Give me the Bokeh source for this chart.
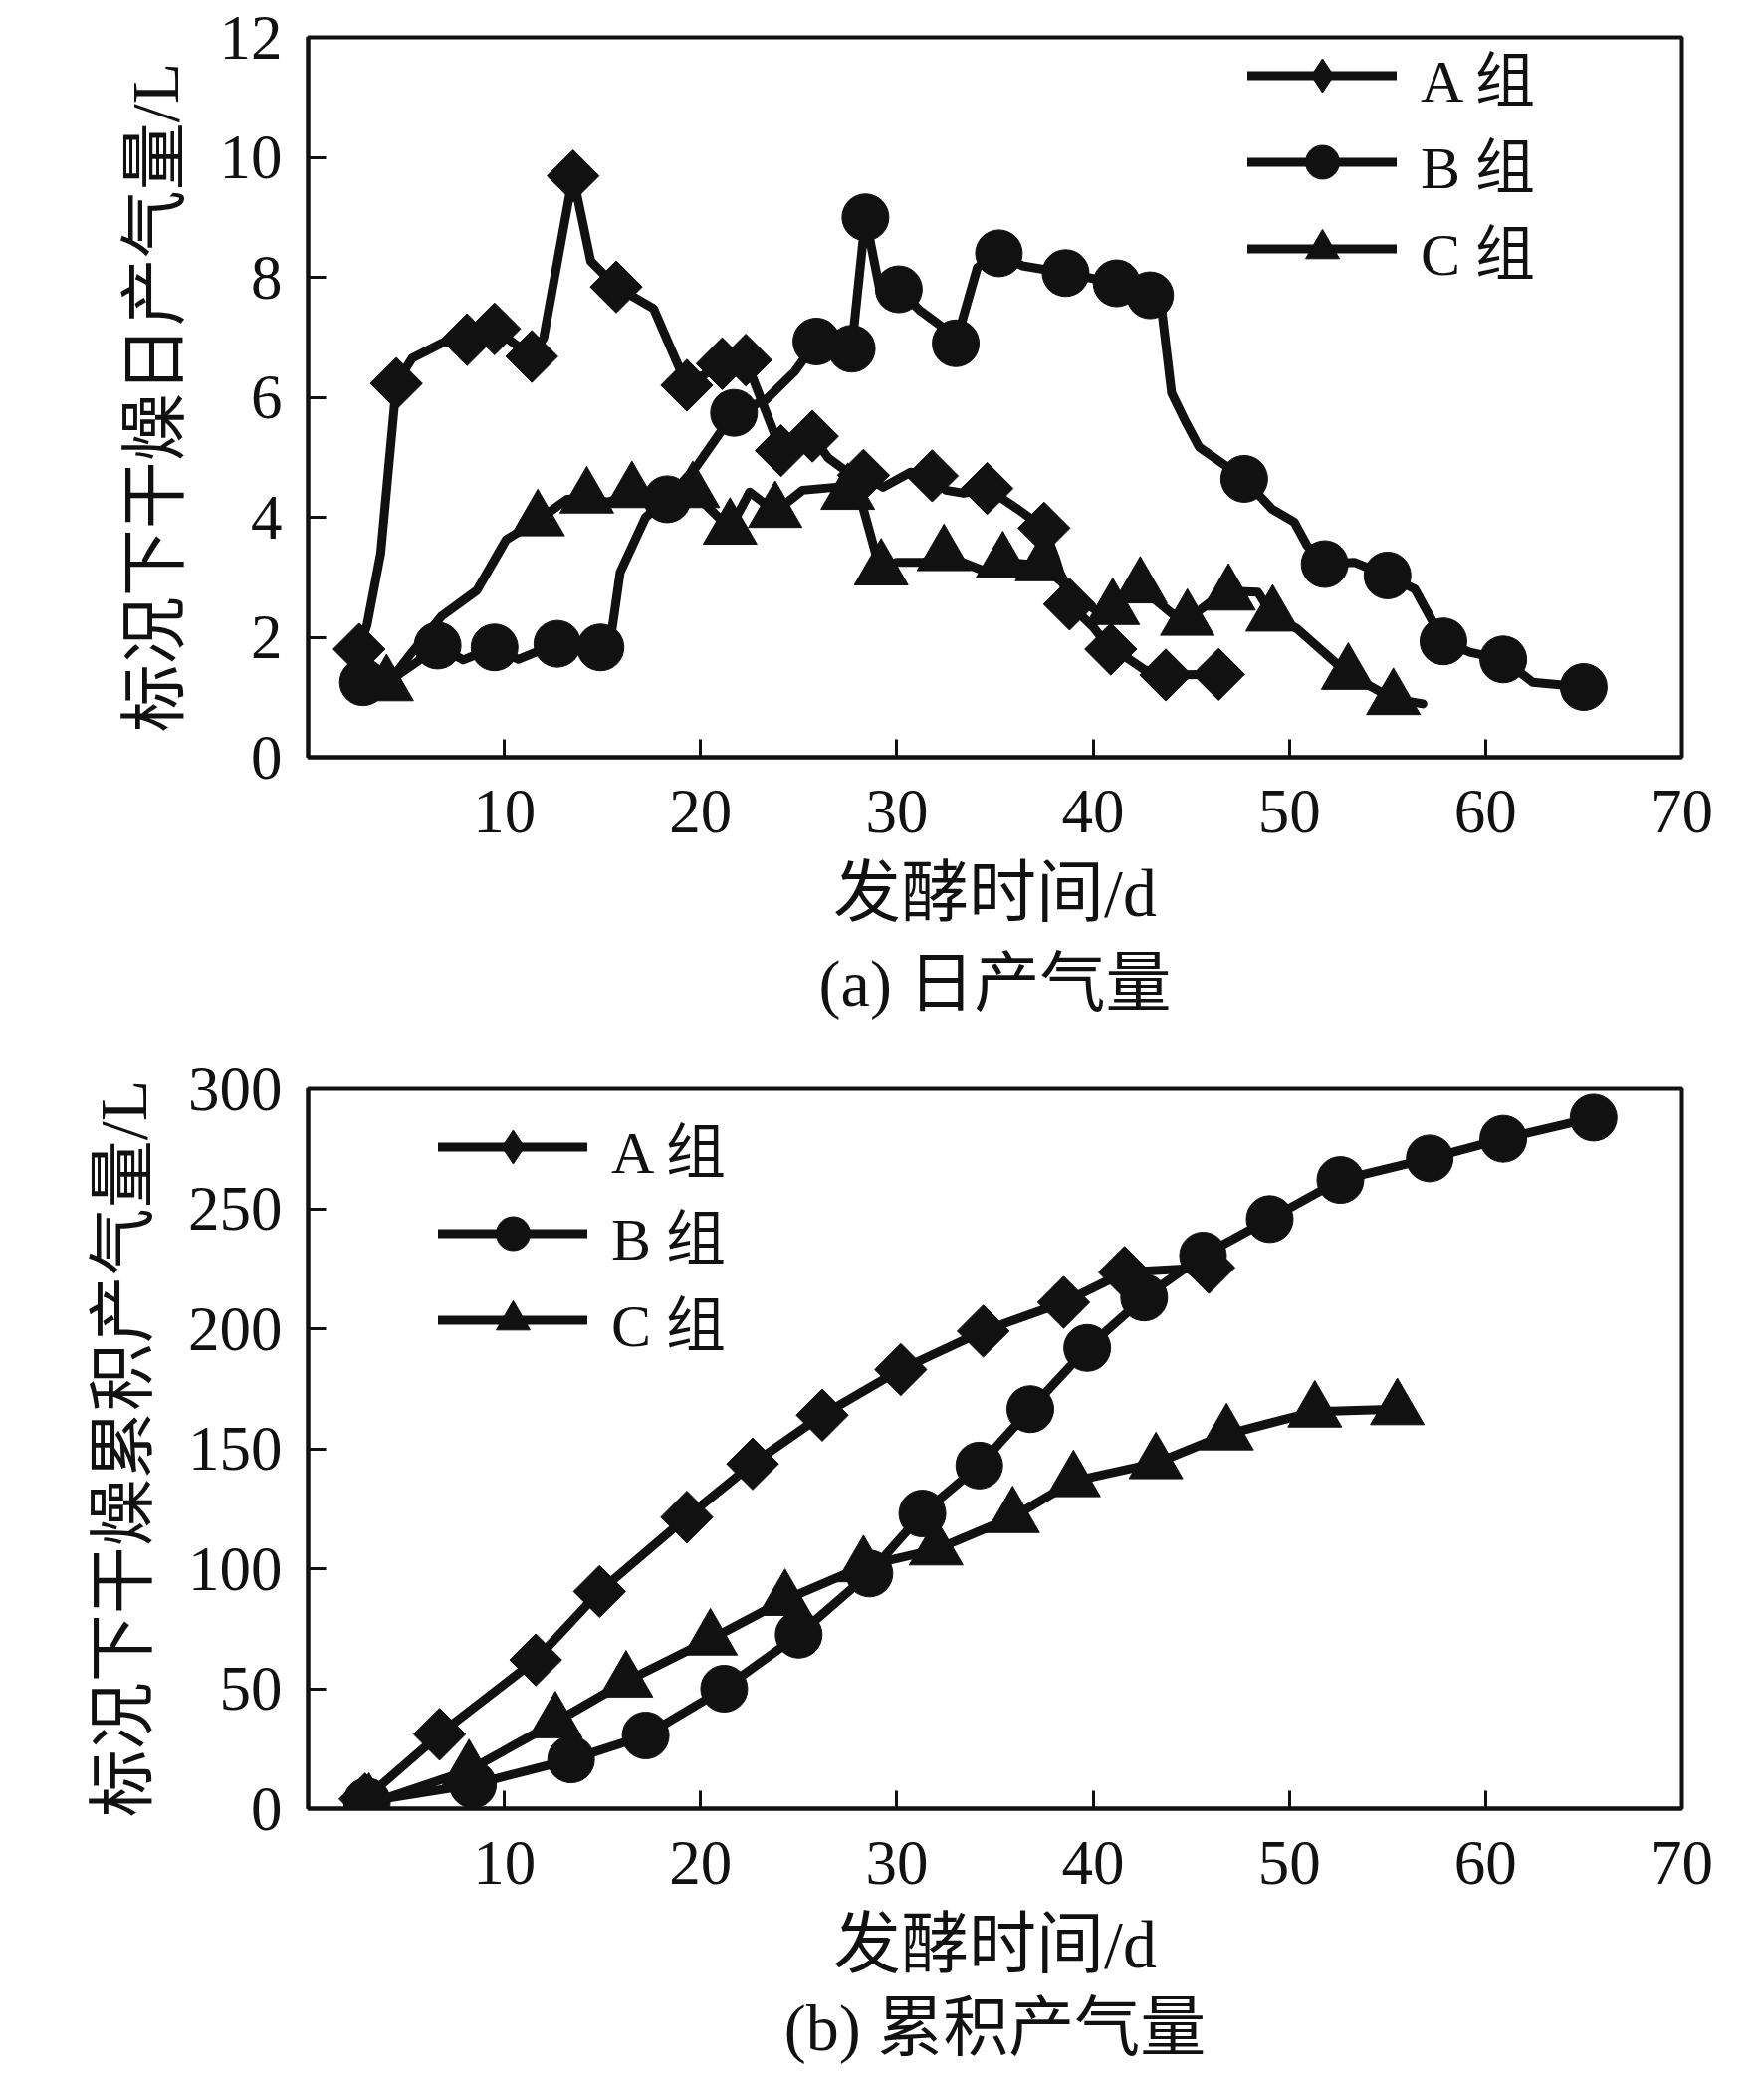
from math import pi

from bokeh.embed import file_html
from bokeh.layouts import column
from bokeh.models import FixedTicker, Legend, LegendItem, Range1d, Title
from bokeh.plotting import figure
from bokeh.resources import INLINE

FONT = "'Liberation Serif', 'Noto Sans CJK SC'"
INK = "#111111"

# (a) daily gas yield -- marker points
day_a_mark_x = [2.6, 4.5, 8.1, 9.5, 11.4, 13.5, 15.7, 19.3, 21.1, 22.3, 24.1, 25.7, 28.3, 31.8, 34.6, 37.5, 38.8, 40.9, 43.7, 46.4]
day_a_mark_y = [1.80, 6.23, 6.96, 7.14, 6.68, 9.69, 7.84, 6.20, 6.56, 6.62, 5.11, 5.35, 4.70, 4.69, 4.48, 3.82, 2.55, 1.80, 1.37, 1.38]
day_b_mark_x = [2.8, 6.6, 9.5, 12.7, 14.9, 18.3, 21.7, 25.9, 27.7, 28.4, 30.1, 33.0, 35.2, 38.6, 41.2, 42.9, 47.7, 51.8, 55.0, 57.85, 60.9, 65.0]
day_b_mark_y = [1.25, 1.86, 1.83, 1.89, 1.83, 4.30, 5.74, 6.93, 6.81, 9.00, 7.80, 6.90, 8.40, 8.07, 7.90, 7.70, 4.64, 3.22, 3.03, 1.93, 1.63, 1.17]
day_c_mark_x = [4.0, 11.7, 14.2, 16.5, 19.6, 21.5, 23.8, 27.5, 29.2, 32.4, 35.4, 37.4, 41.0, 42.4, 44.8, 46.9, 49.15, 53.0, 55.3]
day_c_mark_y = [1.20, 3.95, 4.33, 4.42, 4.42, 3.81, 4.09, 4.39, 3.13, 3.37, 3.25, 3.20, 2.47, 2.83, 2.29, 2.71, 2.36, 1.39, 0.97]

# (a) daily gas yield -- every recorded day (the lines)
day_a_line_x = [2.6, 3.0, 3.7, 4.5, 5.3, 6.8, 8.1, 9.5, 11.4, 12.0, 13.5, 14.4, 15.7, 17.6, 19.3, 21.1, 22.3, 24.1, 25.7, 26.5, 27.5, 28.3, 29.3, 30.7, 31.8, 32.5, 33.4, 34.6, 36.1, 37.5, 38.1, 38.8, 40.0, 40.9, 41.8, 42.6, 43.7, 46.4]
day_a_line_y = [1.80, 2.2, 3.4, 6.23, 6.65, 6.9, 6.96, 7.14, 6.68, 6.99, 9.69, 8.27, 7.84, 7.48, 6.20, 6.56, 6.62, 5.11, 5.35, 4.99, 4.75, 4.70, 4.5, 4.75, 4.69, 4.45, 4.4, 4.48, 4.15, 3.82, 3.3, 2.55, 2.17, 1.80, 1.64, 1.46, 1.37, 1.38]
day_b_line_x = [2.8, 4.5, 5.6, 6.6, 7.9, 9.5, 10.7, 11.6, 12.7, 14.9, 15.5, 15.9, 17.2, 18.3, 19.8, 21.7, 23.3, 24.8, 25.9, 27.7, 28.4, 29.2, 30.1, 31.2, 32.2, 33.0, 34.1, 35.2, 36.4, 38.6, 41.2, 42.3, 42.9, 43.5, 44.0, 44.7, 45.4, 47.7, 49.1, 50.25, 50.9, 51.8, 53.3, 55.0, 56.4, 57.85, 59.2, 60.9, 62.4, 65.0]
day_b_line_y = [1.25, 1.35, 1.6, 1.86, 1.62, 1.83, 1.63, 1.75, 1.89, 1.83, 2.16, 3.08, 4.0, 4.30, 4.85, 5.74, 5.95, 6.43, 6.93, 6.81, 9.00, 7.68, 7.80, 7.44, 7.2, 6.90, 8.16, 8.40, 8.19, 8.07, 7.90, 7.55, 7.70, 7.44, 6.07, 5.6, 5.17, 4.64, 4.14, 3.92, 3.53, 3.22, 3.25, 3.03, 2.8, 1.93, 1.75, 1.63, 1.25, 1.17]
day_c_line_x = [4.0, 5.3, 6.8, 8.6, 10.1, 11.7, 13.2, 14.2, 15.3, 16.5, 19.6, 21.5, 22.5, 23.8, 25.2, 26.9, 27.5, 28.2, 29.0, 29.2, 30.0, 31.35, 32.4, 34.5, 35.4, 37.4, 39.0, 40.3, 41.0, 42.4, 44.0, 44.8, 46.7, 48.4, 49.15, 50.4, 53.0, 55.3, 56.8]
day_c_line_y = [1.20, 1.75, 2.35, 2.78, 3.63, 3.95, 4.30, 4.33, 4.25, 4.42, 4.42, 3.81, 4.42, 4.09, 4.45, 4.50, 4.39, 4.25, 3.30, 3.13, 3.25, 3.25, 3.37, 3.10, 3.25, 3.20, 2.75, 2.40, 2.47, 2.83, 2.40, 2.29, 2.77, 2.75, 2.36, 2.14, 1.39, 0.97, 0.89]

# (b) cumulative gas yield
cum_a_x = [2.9, 6.7, 11.6, 14.85, 19.3, 22.65, 26.2, 30.2, 34.4, 38.5, 41.6, 45.9]
cum_a_y = [4, 31, 62, 90.5, 121.5, 143.7, 164, 183, 199, 211, 223.5, 225.5]
cum_b_x = [3.0, 8.4, 13.4, 17.2, 21.2, 25.0, 28.6, 31.3, 34.2, 36.8, 39.7, 42.6, 45.6, 49.0, 52.6, 57.15, 60.9, 65.5]
cum_b_y = [3, 10, 20.5, 30.5, 50, 72.5, 98, 123, 143, 166.5, 192, 213, 230.5, 245.7, 262, 271, 279.2, 288]
cum_c_x = [3.1, 8.2, 12.6, 16.2, 20.5, 24.3, 28.3, 32.0, 35.9, 39.0, 43.2, 46.8, 51.3, 55.5]
cum_c_y = [2, 16, 36, 53, 70.5, 87, 101, 108, 121.5, 136.5, 144, 156, 165.5, 166.5]

group_labels = ["A 组", "B 组", "C 组"]
x_ticks = [10, 20, 30, 40, 50, 60, 70]
day_y_ticks = [0, 2, 4, 6, 8, 10, 12]
cum_y_ticks = [0, 50, 100, 150, 200, 250, 300]

# plot marker, plus an unrotated twin for the legend key (legend keys ignore angle);
# the twin is smaller than the plot marker so it stays hidden underneath it
MARKERS = [
    (dict(marker="square", size=37, angle=pi / 4), dict(marker="diamond", size=34)),
    (dict(marker="circle", size=47, angle=0), None),
    (dict(marker="triangle", size=54, angle=0), None),
]


def panel(height, top, bottom, y_max, y_ticks, y_label, caption, cap_gap, series, legend_xy):
    p = figure(
        width=1756, height=height,
        x_range=Range1d(0, 70), y_range=Range1d(0, y_max),
        min_border_left=309, min_border_right=67,
        min_border_top=top, min_border_bottom=bottom,
        output_backend="svg", toolbar_location=None,
        background_fill_color="white", border_fill_color="white",
    )
    p.grid.grid_line_color = None
    p.outline_line_color = INK
    p.outline_line_width = 4

    p.xaxis.ticker = FixedTicker(ticks=x_ticks)
    p.yaxis.ticker = FixedTicker(ticks=y_ticks)
    p.axis.axis_line_width = 4
    p.axis.axis_line_color = INK
    p.axis.major_tick_in = 18
    p.axis.major_tick_out = 0
    p.axis.major_tick_line_width = 3
    p.axis.major_tick_line_color = INK
    p.axis.minor_tick_line_color = None
    p.axis.major_label_text_font = FONT
    p.axis.major_label_text_font_size = "63px"
    p.axis.major_label_text_color = INK
    p.axis.axis_label_text_font = FONT
    p.axis.axis_label_text_font_size = "68px"
    p.axis.axis_label_text_font_style = "normal"
    p.axis.axis_label_text_color = INK
    p.xaxis.major_label_standoff = 33
    p.yaxis.major_label_standoff = 26
    p.xaxis.axis_label_standoff = 20
    p.yaxis.axis_label_standoff = 24
    p.xaxis.axis_label = "发酵时间/d"
    p.yaxis.axis_label = y_label

    items = []
    for label, (lx, ly, mx, my), (mk, key) in zip(group_labels, series, MARKERS):
        ln = p.line(lx, ly, line_color=INK, line_width=9, line_join="round", line_cap="round")
        kr = None
        if key is not None:
            kr = p.scatter(mx, my, marker=key["marker"], size=key["size"],
                           fill_color=INK, line_color=INK)
        sc = p.scatter(mx, my, marker=mk["marker"], size=mk["size"], angle=mk["angle"],
                       fill_color=INK, line_color=INK)
        items.append(LegendItem(label=label, renderers=[ln, kr if kr is not None else sc]))

    legend = Legend(
        items=items, location=legend_xy,
        glyph_width=150, glyph_height=85, label_height=85,
        label_standoff=24, spacing=0, padding=0, margin=0,
        border_line_color=None, background_fill_alpha=0,
        label_text_font=FONT, label_text_font_size="60px", label_text_color=INK,
    )
    p.add_layout(legend)

    cap = Title(text=caption, align="center", text_font=FONT, text_font_size="66px",
                text_font_style="normal", text_color=INK, standoff=cap_gap)
    p.add_layout(cap, "below")
    return p


p1 = panel(
    1048, 37, 288, 12, day_y_ticks, "标况下干燥日产气量/L", "(a) 日产气量", 22,
    [
        (day_a_line_x, day_a_line_y, day_a_mark_x, day_a_mark_y),
        (day_b_line_x, day_b_line_y, day_b_mark_x, day_b_mark_y),
        (day_c_line_x, day_c_line_y, day_c_mark_x, day_c_mark_y),
    ],
    (944, 467),
)
p2 = panel(
    1041, 45, 273, 300, cum_y_ticks, "标况下干燥累积产气量/L", "(b) 累积产气量", 8,
    [
        (cum_a_x, cum_a_y, cum_a_x, cum_a_y),
        (cum_b_x, cum_b_y, cum_b_x, cum_b_y),
        (cum_c_x, cum_c_y, cum_c_x, cum_c_y),
    ],
    (131, 447),
)

layout = column(p1, p2, spacing=0)
open("out.html", "w").write(file_html(layout, INLINE))
